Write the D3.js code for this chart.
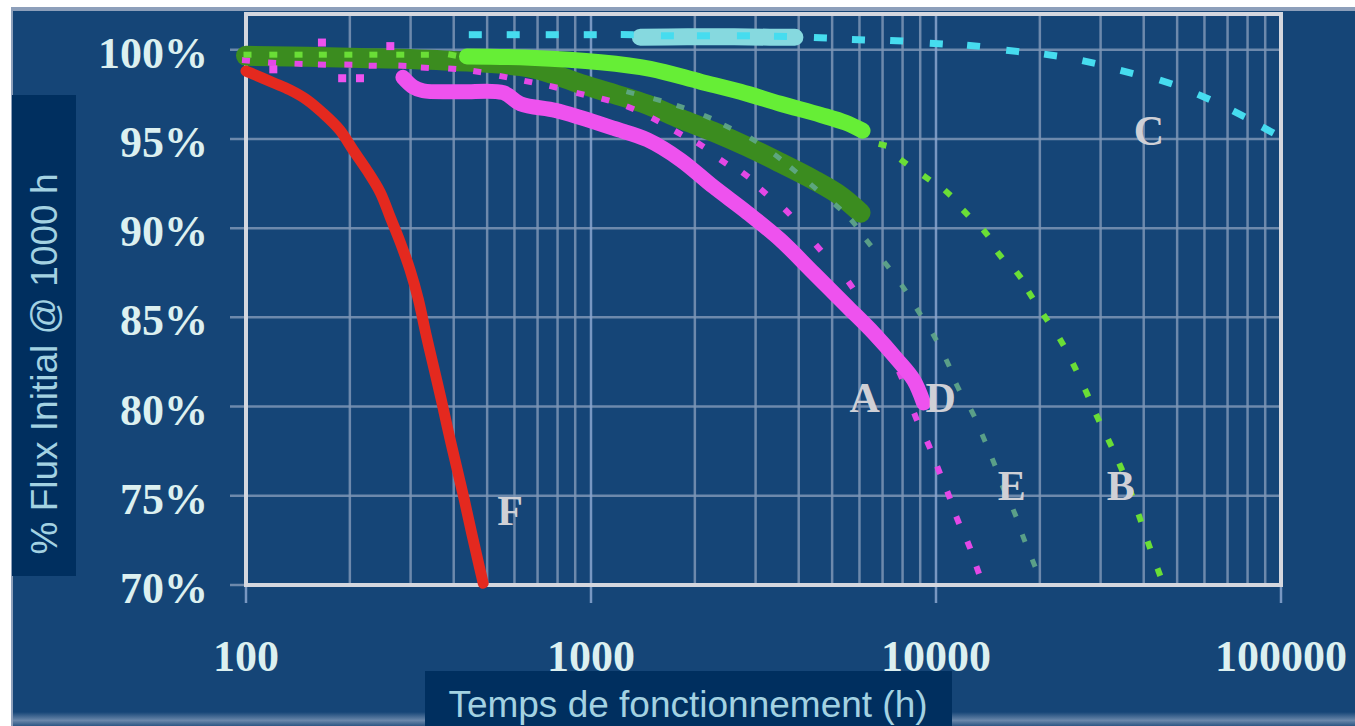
<!DOCTYPE html>
<html>
<head>
<meta charset="utf-8">
<script src="https://cdn.jsdelivr.net/npm/d3@7"></script>
<style>
  body { margin: 0; background: #fff; }
  svg { display: block; }
</style>
</head>
<body>
<div id="chart"></div>
<script>
// axis ticks
const xTicks = [100, 1000, 10000, 100000];
const yTicks = [70, 75, 80, 85, 90, 95, 100];

// measured bands: [hours, % flux]
const bandF = [[100, 98.8], [103, 98.7], [120, 98.15], [134, 97.75], [150, 97.2], [167, 96.45], [187, 95.5], [204, 94.4], [224, 93.25], [245, 92.0], [262, 90.6], [280, 89.2], [299, 87.65], [316, 86.0], [332, 84.1], [350, 82.2], [368, 80.4], [387, 78.5], [408, 76.6], [429, 74.8], [451, 72.9], [475, 71.0], [487, 70.1]];
const bandE = [[100, 99.66], [200, 99.55], [391, 99.38], [667, 98.99], [931, 98.09], [1161, 97.53], [1457, 96.92], [1816, 96.13], [2263, 95.4], [2842, 94.56], [3540, 93.66], [4416, 92.71], [5288, 91.81], [6044, 90.86]];
const bandB = [[437, 99.62], [667, 99.55], [1065, 99.3], [1486, 98.93], [2077, 98.21], [2711, 97.64], [3540, 96.97], [4627, 96.35], [5468, 95.91], [6124, 95.46]];
const bandA = [[285, 98.45], [305, 97.92], [326, 97.7], [418, 97.64], [557, 97.59], [624, 96.97], [788, 96.6], [931, 96.2], [1161, 95.6], [1457, 94.95], [1816, 93.83], [2263, 92.32], [2842, 90.86], [3540, 89.34], [4416, 87.49], [5541, 85.59], [6590, 84.13], [7738, 82.61], [8610, 81.49], [9204, 80.2]];
const pointsA = [[120, 98.9], [166, 100.4], [190, 98.4], [214, 98.4], [262, 100.2]];
const bandC = [[1390, 100.7], [1900, 100.72], [2600, 100.72], [3300, 100.7], [3900, 100.7]];

// extrapolated models (dotted / dashed markers)
const modelC = [[462, 100.84], [595, 100.84], [772, 100.84], [995, 100.84], [1274, 100.84], [1665, 100.78], [2118, 100.78], [2766, 100.78], [3542, 100.75], [4624, 100.67], [5960, 100.56], [7690, 100.5], [10020, 100.34], [12850, 100.22], [16680, 99.93], [21480, 99.7], [27710, 99.31], [35730, 98.75], [46380, 98.19], [59730, 97.35], [75510, 96.4], [91620, 95.5]];
const modelB = [[101, 99.72], [120, 99.72], [142, 99.72], [167, 99.72], [198, 99.72], [234, 99.72], [280, 99.72], [330, 99.72], [396, 99.7], [7000, 94.67], [8054, 93.72], [9390, 92.82], [10810, 91.98], [12190, 90.86], [13930, 89.74], [15300, 88.5], [17370, 87.38], [18800, 86.26], [20790, 84.97], [23130, 83.62], [25220, 82.22], [27340, 80.76], [29430, 79.36], [31900, 77.96], [34330, 76.61], [36700, 75.2], [38980, 73.75], [41410, 72.24], [44260, 70.72]];
const modelD = [[100, 99.4], [119, 99.27], [142, 99.21], [166, 99.16], [198, 99.16], [233, 99.1], [284, 99.1], [330, 98.99], [396, 98.93], [468, 98.77], [557, 98.49], [658, 98.21], [778, 97.92], [931, 97.53], [1101, 97.2], [1300, 96.75], [1537, 96.07], [1792, 95.34], [2077, 94.67], [2420, 93.72], [2803, 92.99], [3162, 92.04], [3710, 90.91], [4563, 88.9], [5655, 86.82], [6906, 84.02], [7890, 81.77], [8730, 79.42], [9520, 77.85], [10180, 76.44], [10880, 75.04], [11560, 73.64], [12450, 72.24], [13210, 70.84]];
const modelE = [[1300, 97.59], [1557, 97.2], [1816, 96.81], [2175, 96.24], [2486, 95.68], [2957, 94.95], [3472, 94.0], [3864, 93.27], [4416, 92.32], [5183, 91.2], [5768, 90.3], [6373, 89.18], [7190, 87.94], [8054, 86.65], [8906, 85.31], [9905, 83.9], [10810, 82.45], [11560, 81.1], [12770, 79.64], [13740, 78.24], [14690, 76.89], [15700, 75.4], [16900, 74.03], [17950, 72.63], [19190, 71.23]];

// curve letters, anchored in data units
const curveLabels = ['A', 'D', 'E', 'B', 'C', 'F'];
const labelHours = [6208, 10310, 16570, 34320, 41390, 583];
const labelFlux = [79.7, 79.7, 74.76, 74.76, 94.67, 73.36];

const width = 1355, height = 726;
const blue = '#154577', dark = '#002f5f';

const svg = d3.select('#chart').append('svg')
    .attr('width', width)
    .attr('height', height);

const x = d3.scaleLog().domain([100, 100000]).range([246, 1281]);
const y = d3.scaleLinear().domain([70, 102]).range([585, 14]);

// page background
svg.append('rect').attr('width', width).attr('height', height).attr('fill', '#fff');
svg.append('rect').attr('x', 11).attr('y', 7).attr('width', width - 11).attr('height', height - 7).attr('fill', '#8d9fba');
svg.append('rect').attr('x', 13).attr('y', 11).attr('width', width - 13).attr('height', height - 11).attr('fill', blue);
const defs = svg.append('defs');
const grad = defs.append('linearGradient').attr('id', 'bottomGlow').attr('x1', 0).attr('x2', 0).attr('y1', 0).attr('y2', 1);
grad.append('stop').attr('offset', '0%').attr('stop-color', blue);
grad.append('stop').attr('offset', '60%').attr('stop-color', '#6a87aa');
grad.append('stop').attr('offset', '100%').attr('stop-color', '#2c5684');
svg.append('rect').attr('x', 13).attr('y', 712).attr('width', width - 13).attr('height', 14).attr('fill', 'url(#bottomGlow)');

// grid
const grid = svg.append('g').attr('class', 'grid');
grid.selectAll('line.h')
    .data(yTicks)
    .enter().append('line')
    .attr('class', 'h')
    .attr('x1', 230).attr('x2', x.range()[1])
    .attr('y1', d => y(d)).attr('y2', d => y(d))
    .attr('stroke', '#7d96b6').attr('stroke-width', 2.5).attr('opacity', 0.85);
grid.selectAll('line.v')
    .data(x.ticks())
    .enter().append('line')
    .attr('class', 'v')
    .attr('x1', d => x(d)).attr('x2', d => x(d))
    .attr('y1', y.range()[1])
    .attr('y2', d => xTicks.includes(d) ? 603 : y.range()[0])
    .attr('stroke', d => xTicks.includes(d) ? '#8aa6d0' : '#7d96b6')
    .attr('stroke-width', 2.5).attr('opacity', 0.85);

// plot frame
svg.append('rect')
    .attr('x', x.range()[0]).attr('y', y.range()[1])
    .attr('width', x.range()[1] - x.range()[0])
    .attr('height', y.range()[0] - y.range()[1])
    .attr('fill', 'none').attr('stroke', '#d4d7df').attr('stroke-width', 4);

const line = d3.line()
    .x(d => x(d[0]))
    .y(d => y(d[1]))
    .curve(d3.curveCatmullRom.alpha(0.5));

const plot = svg.append('g').attr('class', 'data');

function band(data, color, w) {
    plot.append('path')
        .datum(data)
        .attr('d', line)
        .attr('fill', 'none')
        .attr('stroke', color)
        .attr('stroke-width', w)
        .attr('stroke-linecap', 'round')
        .attr('stroke-linejoin', 'round');
}

function angleAt(data, i) {
    const a = data[Math.max(0, i - 1)], b = data[Math.min(data.length - 1, i + 1)];
    return Math.atan2(y(b[1]) - y(a[1]), x(b[0]) - x(a[0])) * 180 / Math.PI;
}

function marks(data, color, len, thick, opacity = 1) {
    plot.append('g').selectAll('rect')
        .data(data)
        .enter().append('rect')
        .attr('x', -len / 2).attr('y', -thick / 2)
        .attr('width', len).attr('height', thick)
        .attr('fill', color)
        .attr('opacity', opacity)
        .attr('transform', (d, i) => 'translate(' + x(d[0]) + ',' + y(d[1]) + ') rotate(' + angleAt(data, i) + ')');
}

band(bandE, '#3b8c1f', 20);
band(bandB, '#66ee36', 16);
marks(modelD, '#e448e6', 8, 6);
plot.append('g').selectAll('rect')
    .data(pointsA)
    .enter().append('rect')
    .attr('x', d => x(d[0]) - 4).attr('y', d => y(d[1]) - 4)
    .attr('width', 8).attr('height', 8)
    .attr('fill', '#ee52ee');
band(bandA, '#ee52ee', 15);
marks(modelB, '#6ade36', 8, 6);
marks(modelE, '#62a88a', 8, 5, 0.9);
band(bandC, '#86d9df', 17);
marks(modelC, '#46dcef', 13, 7);
band(bandF, '#e4291f', 11);

// curve letters
svg.append('g').selectAll('text')
    .data(curveLabels)
    .enter().append('text')
    .attr('x', (d, i) => x(labelHours[i]))
    .attr('y', (d, i) => y(labelFlux[i]))
    .attr('text-anchor', 'middle')
    .attr('font-family', '"Liberation Serif", "Times New Roman", serif')
    .attr('font-weight', 'bold')
    .attr('font-size', 42)
    .attr('fill', '#cfd0d6')
    .text(d => d);

// tick labels
const tickFont = '"Liberation Serif", "Times New Roman", serif';
svg.append('g').selectAll('text')
    .data(yTicks)
    .enter().append('text')
    .attr('x', 208)
    .attr('y', d => y(d) + 18)
    .attr('text-anchor', 'end')
    .attr('font-family', tickFont).attr('font-weight', 'bold').attr('font-size', 44)
    .attr('fill', '#dcf0f0')
    .text(d => d + '%');
svg.append('g').selectAll('text')
    .data(xTicks)
    .enter().append('text')
    .attr('x', d => x(d))
    .attr('y', 671)
    .attr('text-anchor', 'middle')
    .attr('font-family', tickFont).attr('font-weight', 'bold').attr('font-size', 44)
    .attr('fill', '#dcf0f0')
    .text(d => d);

// axis titles
svg.append('rect').attr('x', 12).attr('y', 95).attr('width', 64).attr('height', 481).attr('fill', dark);
svg.append('text')
    .attr('transform', 'translate(57,364) rotate(-90)')
    .attr('text-anchor', 'middle')
    .attr('font-family', '"Liberation Sans", Arial, sans-serif')
    .attr('font-size', 37)
    .attr('fill', '#a3d2e2')
    .text('% Flux Initial @ 1000 h');
svg.append('rect').attr('x', 425).attr('y', 671).attr('width', 527).attr('height', 55).attr('fill', dark);
svg.append('text')
    .attr('x', 688).attr('y', 717)
    .attr('text-anchor', 'middle')
    .attr('font-family', '"Liberation Sans", Arial, sans-serif')
    .attr('font-size', 37)
    .attr('fill', '#a3d2e2')
    .text('Temps de fonctionnement (h)');
</script>
</body>
</html>
